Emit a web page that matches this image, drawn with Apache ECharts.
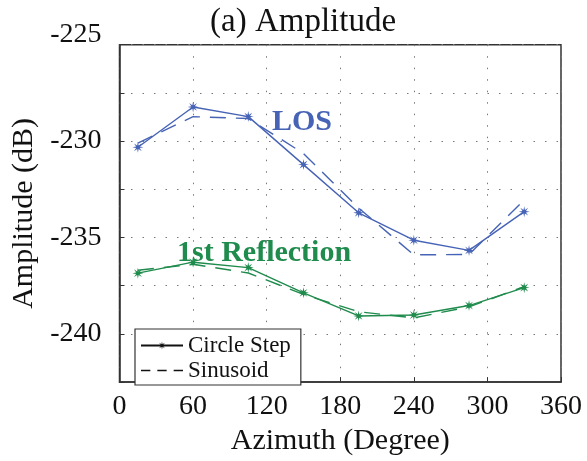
<!DOCTYPE html>
<html><head><meta charset="utf-8">
<script src="https://cdn.jsdelivr.net/npm/echarts@6/dist/echarts.min.js"></script>
<style>html,body{margin:0;padding:0;background:#fff}#c{width:587px;height:461px}</style>
</head><body><div id="c"></div>
<script>
const azimuth = [15, 60, 105, 150, 195, 240, 285, 330];
const losStep = [-230.32, -228.23, -228.73, -231.22, -233.72, -235.14, -235.67, -233.66];
const losSine = [-230.10, -228.73, -228.83, -230.64, -233.47, -235.90, -235.88, -233.05];
const refStep = [-236.85, -236.28, -236.56, -237.87, -239.07, -239.02, -238.53, -237.60];
const refSine = [-236.70, -236.39, -236.84, -237.95, -238.85, -239.17, -238.60, -237.55];
const xTicks = [0, 60, 120, 180, 240, 300, 360];
const yLabels = [-225, -230, -235, -240];

const F = '"Liberation Serif","Times New Roman",serif';
const blue = '#4663b6', green = '#1f8b4d';
const star = 'path://M20,10L13.23,11.34L17.07,17.07L11.34,13.23L10,20L8.66,13.23L2.93,17.07L6.77,11.34L0,10L6.77,8.66L2.93,2.93L8.66,6.77L10,0L11.34,6.77L17.07,2.93L13.23,8.66Z';
const dashIcon = 'path://M0,0h8v1.4h-8zM14,0h8v1.4h-8zM28,0h8v1.4h-8z';
const pairs = ys => azimuth.map((x, i) => [x, ys[i]]);

const chart = echarts.init(document.getElementById('c'));
chart.setOption({
  animation: false,
  backgroundColor: '#fff',
  title: {text: '(a) Amplitude', left: 205, top: 1,
    textStyle: {fontFamily: F, fontSize: 33, fontWeight: 'normal', color: '#111'}},
  grid: {left: 119.5, right: 26, top: 44.7, bottom: 68.3, show: true, borderColor: '#333', borderWidth: 1.5},
  xAxis: {type: 'value', min: 0, max: 360, interval: 60,
    name: 'Azimuth (Degree)', nameLocation: 'middle', nameGap: 39,
    nameTextStyle: {fontFamily: F, fontSize: 30, color: '#111'},
    axisLine: {lineStyle: {color: '#333', width: 1.5}},
    axisTick: {inside: true, length: 5, lineStyle: {color: '#333'}},
    axisLabel: {fontFamily: F, fontSize: 28, color: '#111', margin: 11,
      formatter: v => xTicks.includes(v) ? String(v) : ''},
    splitLine: {show: true, lineStyle: {color: '#777', type: [1.5, 10], width: 1}}},
  yAxis: {type: 'value', min: -242.5, max: -225, interval: 2.5,
    name: 'Amplitude (dB)', nameLocation: 'middle', nameGap: 72,
    nameTextStyle: {fontFamily: F, fontSize: 30, color: '#111'},
    axisLine: {lineStyle: {color: '#333', width: 1.5}},
    axisTick: {inside: true, length: 5, lineStyle: {color: '#333'}},
    axisLabel: {fontFamily: F, fontSize: 28, color: '#111', margin: 18,
      formatter: v => yLabels.includes(v) ? (v === -225 ? '{t|' + v + '}' : String(v)) : '',
      rich: {t: {fontFamily: F, fontSize: 28, color: '#111', padding: [0, 0, 20, 0]}}},
    splitLine: {show: true, lineStyle: {color: '#777', type: [1.5, 10], width: 1}}},
  legend: {orient: 'vertical', left: 135, top: 329,
    data: [{name: 'Circle Step'}, {name: 'Sinusoid', icon: dashIcon}],
    borderColor: '#333', borderWidth: 1.2, padding: [5, 10, 3, 5], itemGap: 2,
    itemWidth: 42, itemHeight: 10, backgroundColor: '#fff',
    textStyle: {fontFamily: F, fontSize: 23, color: '#111', lineHeight: 22}},
  graphic: [
    {type: 'text', left: 272, top: 107, style: {text: 'LOS', font: 'bold 30px ' + F, fill: blue}},
    {type: 'text', left: 177, top: 238, style: {text: '1st Reflection', font: 'bold 30px ' + F, fill: green}}
  ],
  series: [
    {name: 'LOS step', type: 'line', data: pairs(losStep), symbol: star, symbolSize: 11,
      itemStyle: {color: blue}, lineStyle: {color: blue, width: 1.4}, z: 3},
    {name: 'LOS sine', type: 'line', data: pairs(losSine), symbol: 'none',
      lineStyle: {color: blue, width: 1.4, type: [16, 10]}, z: 2},
    {name: 'Ref step', type: 'line', data: pairs(refStep), symbol: star, symbolSize: 11,
      itemStyle: {color: green}, lineStyle: {color: green, width: 1.4}, z: 3},
    {name: 'Ref sine', type: 'line', data: pairs(refSine), symbol: 'none',
      lineStyle: {color: green, width: 1.4, type: [16, 10]}, z: 2},
    {name: 'Circle Step', type: 'line', data: [], symbol: star, symbolSize: 10,
      itemStyle: {color: '#111'}, lineStyle: {color: '#111', width: 1.2}},
    {name: 'Sinusoid', type: 'line', data: [], symbol: 'none',
      itemStyle: {color: '#111'}, lineStyle: {color: '#111', width: 1.2, type: [8, 6]}}
  ]
});
</script></body></html>
